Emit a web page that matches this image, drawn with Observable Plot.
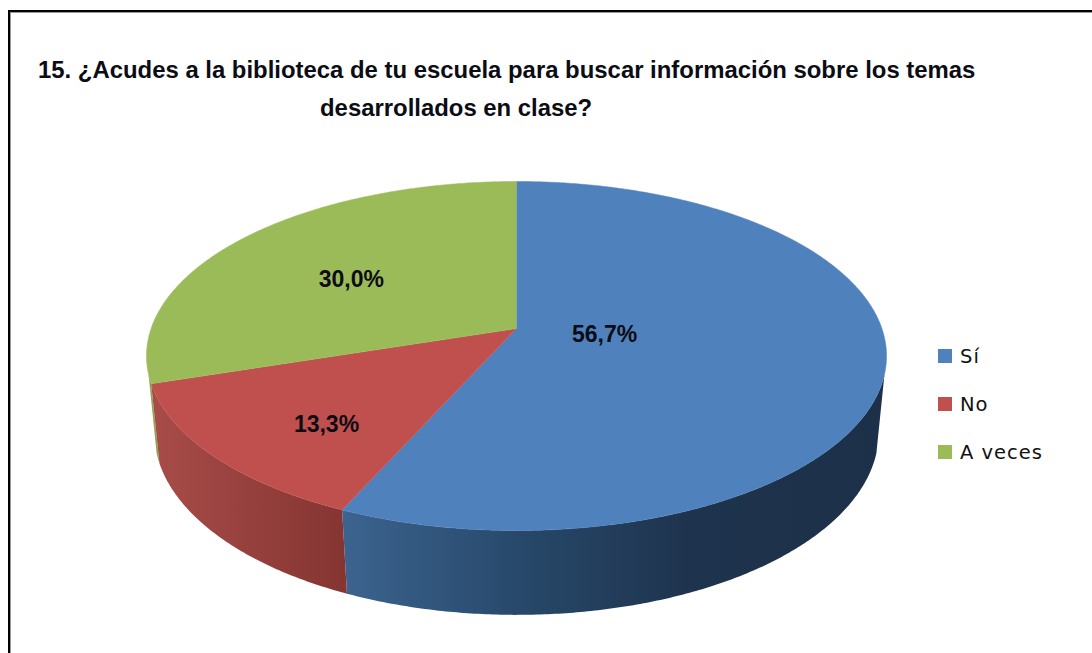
<!DOCTYPE html>
<html lang="es">
<head>
<meta charset="utf-8">
<script src="https://cdn.jsdelivr.net/npm/d3@7"></script>
<script src="https://cdn.jsdelivr.net/npm/@observablehq/plot@0.6"></script>
<style>
  html, body { margin: 0; background: #fff; }
  #chart { position: relative; width: 1092px; height: 653px; overflow: hidden; }
  #chart svg { position: absolute; left: 0; top: 0; background: transparent; }
  #frame { position: absolute; left: 8px; top: 10px; right: 0; bottom: 0; border-top: 2px solid #000; border-left: 2px solid #000; box-shadow: inset 1px 1px 0 #999; }
  .title { position: absolute; font: bold 23.9px "Liberation Sans", Arial, sans-serif; color: #0c0c14; white-space: nowrap; }
  .legend-swatch { position: absolute; left: 938px; width: 14px; height: 14px; }
  .legend-label { position: absolute; left: 960px; font: 19.5px "DejaVu Sans", sans-serif; letter-spacing: 1px; color: #111; white-space: nowrap; }
</style>
</head>
<body>
<div id="chart"></div>
<script>
const titleLines = [
  "15. ¿Acudes a la biblioteca de tu escuela para buscar información sobre los temas",
  "desarrollados en clase?"
];
const categories = ["Sí", "No", "A veces"];
const values = [56.7, 13.3, 30.0];
const valueLabels = ["56,7%", "13,3%", "30,0%"];
const topColors = ["#4f81bd", "#c0504d", "#9bbb59"];

// Layout of the tilted pie, in units of the x and y scales.
const topRim = {k: 0.1576, sx: 1, sy: 1, oy: 0};
const bottomRim = {k: 0.15, sx: 0.98, sy: 1.046, oy: 0.452};
const silhouette = 0.2917; // turn where the wall's straight outer edge touches the rim
const labelX = [0.241, -0.52, -0.452];
const labelY = [0.035, 0.564, -0.288];

const project = (turn, r, rim) => {
  const a = turn * 2 * Math.PI;
  const u = r * Math.sin(a), v = -r * Math.cos(a), w = 1 - rim.k * v;
  return {x: rim.sx * u / w, y: rim.oy + rim.sy * v / w};
};
const arc = (t0, t1, rim) => {
  const n = Math.max(2, Math.ceil((t1 - t0) * 720));
  return d3.range(n + 1).map(i => project(t0 + (t1 - t0) * i / n, 1, rim));
};
// The wall is only drawn over the turns facing the viewer.
const wall = (t0, t1) => {
  const a = Math.max(t0, silhouette), b = Math.min(t1, 1 - silhouette);
  return [...arc(a, b, topRim), ...arc(a, b, bottomRim).reverse()];
};

const total = d3.sum(values);
let run = 0;
const slices = values.map((v, i) => {
  const t0 = run / total; run += v;
  const t1 = run / total;
  return {color: topColors[i], face: [{x: 0, y: 0}, ...arc(t0, t1, topRim)], side: wall(t0, t1)};
});

const gradient = (id, x1, x2, stops) => {
  const g = d3.create("svg:linearGradient").attr("id", id)
    .attr("gradientUnits", "userSpaceOnUse")
    .attr("x1", x1).attr("x2", x2).attr("y1", 0).attr("y2", 0);
  stops.forEach(([o, c]) => g.append("stop").attr("offset", o).attr("stop-color", c));
  return g.node();
};
const defs = (index, {x}) => {
  const d = d3.create("svg:defs");
  d.append(() => gradient("side-blue", x(-0.476), x(1), [[0, "#3c648f"], [0.33, "#27486a"], [0.65, "#1e334d"], [1, "#1d3049"]]));
  d.append(() => gradient("side-red", x(-1), x(-0.47), [[0, "#a84c49"], [1, "#853532"]]));
  d.append(() => gradient("side-green", x(-1), x(-0.9), [[0, "#8aa64f"], [1, "#8aa64f"]]));
  return d.node();
};
const sideFills = ["url(#side-blue)", "url(#side-red)", "url(#side-green)"];

const labels = valueLabels.map((text, i) => ({text, x: labelX[i], y: labelY[i]}));

const plot = Plot.plot({
  width: 1092,
  height: 653,
  margin: 0,
  style: {background: "transparent"},
  x: {domain: [-1, 1], range: [150.6, 881.4], axis: null},
  y: {domain: [-1, 1], range: [157.8, 498.2], axis: null},
  marks: [
    defs,
    ...[2, 0, 1].map(i => Plot.line(slices[i].side, {x: "x", y: "y", fill: sideFills[i], stroke: "none"})),
    ...slices.map(s => Plot.line(s.face, {x: "x", y: "y", fill: s.color, stroke: s.color, strokeWidth: 0.5})),
    Plot.text(labels, {
      x: "x", y: "y", text: "text", fill: "#0c0c14", fontSize: 23, fontWeight: "bold",
      fontFamily: "Liberation Sans, Arial, sans-serif"
    })
  ]
});

const chart = document.getElementById("chart");
chart.append(plot);

const add = (cls, css, text) => {
  const el = document.createElement("div");
  el.className = cls;
  el.style.cssText = css;
  if (text) el.textContent = text;
  chart.append(el);
  return el;
};
add("", "").id = "frame";
add("title", "left:38px;top:56px;", titleLines[0]);
add("title", "left:320px;top:94px;", titleLines[1]);
categories.forEach((c, i) => {
  add("legend-swatch", `top:${349 + i * 48}px;background:${topColors[i]};`);
  add("legend-label", `top:${345 + i * 48}px;`, c);
});
</script>
</body>
</html>
